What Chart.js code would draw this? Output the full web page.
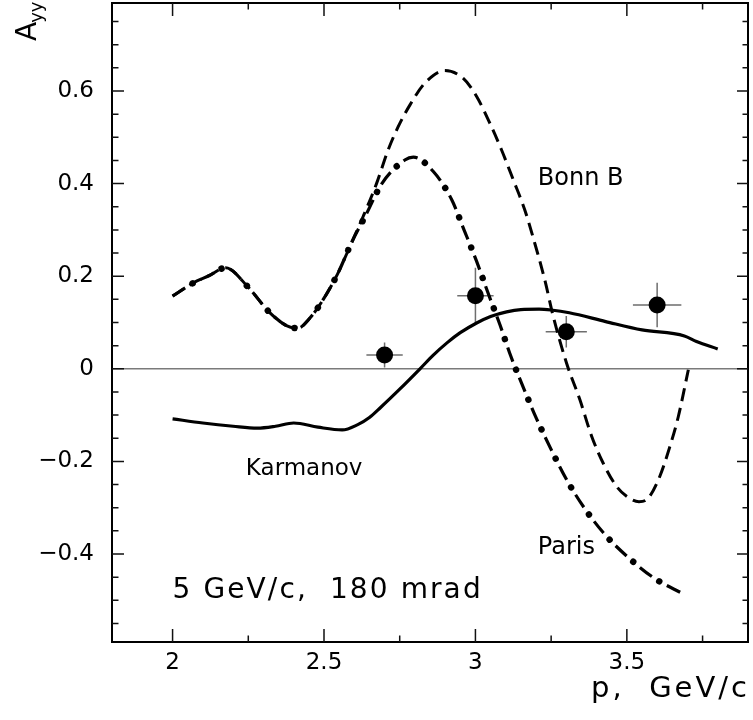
<!DOCTYPE html>
<html><head><meta charset="utf-8">
<script src="https://cdn.jsdelivr.net/npm/chart.js@4.4.0/dist/chart.umd.min.js"></script>
<style>html,body{margin:0;padding:0;background:#fff;}</style>
</head><body>
<canvas id="c" width="753" height="720"></canvas>
<script>
// ---- data ----
const xTicks = [2, 2.5, 3, 3.5];
const yTicks = [-0.4, -0.2, 0, 0.2, 0.4, 0.6];

const karmanovX = [2.0, 2.1, 2.2, 2.28, 2.34, 2.4, 2.48, 2.56, 2.61, 2.65, 2.686, 2.75, 2.817, 2.86, 2.906, 2.95, 3.004, 3.05, 3.103, 3.15, 3.21, 3.25, 3.31, 3.43, 3.55, 3.69, 3.73, 3.8];
const karmanovY = [-0.108, -0.117, -0.124, -0.128, -0.124, -0.117, -0.126, -0.132, -0.121, -0.105, -0.084, -0.044, 0.0, 0.029, 0.056, 0.078, 0.099, 0.113, 0.123, 0.128, 0.129, 0.127, 0.121, 0.102, 0.084, 0.071, 0.059, 0.043];

const bonnX = [2.0, 2.07, 2.12, 2.175, 2.25, 2.32, 2.38, 2.415, 2.45, 2.49, 2.545, 2.59, 2.63, 2.674, 2.712, 2.745, 2.784, 2.833, 2.899, 2.96, 3.004, 3.048, 3.086, 3.125, 3.163, 3.196, 3.229, 3.257, 3.301, 3.345, 3.384, 3.422, 3.466, 3.505, 3.54, 3.571, 3.609, 3.642, 3.67, 3.703];
const bonnY = [0.157, 0.186, 0.201, 0.218, 0.176, 0.122, 0.092, 0.088, 0.107, 0.142, 0.205, 0.271, 0.33, 0.401, 0.473, 0.523, 0.57, 0.617, 0.644, 0.627, 0.588, 0.53, 0.473, 0.408, 0.343, 0.271, 0.192, 0.113, 0.012, -0.067, -0.146, -0.204, -0.254, -0.278, -0.287, -0.279, -0.232, -0.168, -0.103, -0.002];

const parisX = [2.0, 2.07, 2.12, 2.175, 2.25, 2.32, 2.38, 2.415, 2.45, 2.49, 2.545, 2.59, 2.641, 2.69, 2.767, 2.795, 2.861, 2.921, 2.963, 3.004, 3.042, 3.081, 3.117, 3.158, 3.202, 3.249, 3.299, 3.358, 3.425, 3.504, 3.59, 3.689];
const parisY = [0.157, 0.186, 0.201, 0.218, 0.176, 0.122, 0.092, 0.088, 0.107, 0.142, 0.205, 0.271, 0.336, 0.399, 0.451, 0.457, 0.426, 0.366, 0.299, 0.232, 0.163, 0.095, 0.027, -0.04, -0.108, -0.173, -0.237, -0.299, -0.356, -0.407, -0.452, -0.487];

const expX = [2.7, 3.0, 3.3, 3.6];
const expY = [0.03, 0.158, 0.08, 0.138];
const expXErr = [0.06, 0.06, 0.068, 0.08];
const expYErr = [0.027, 0.06, 0.034, 0.048];

const curveLabels = ['Bonn B', 'Karmanov', 'Paris'];
const infoText = '5 GeV/c,  180 mrad';
// -------------------------------------

const FONT = 'DejaVu Sans';
const pts = (xs, ys) => xs.map((x, i) => ({x: x, y: ys[i]}));

const annot = [
  {text: curveLabels[0], x: 3.206, y: 0.397, size: 24, ls: 0},
  {text: curveLabels[1], x: 2.242, y: -0.229, size: 23, ls: 0},
  {text: curveLabels[2], x: 3.206, y: -0.401, size: 24, ls: 0},
  {text: infoText, x: 2.0, y: -0.496, size: 28, ls: 2.1}
];

const decor = {
  id: 'decor',
  beforeDatasetsDraw(chart) {
    const {ctx, scales: {x, y}} = chart;
    ctx.save();
    ctx.strokeStyle = '#6e6e6e';
    ctx.lineWidth = 1.5;
    for (let i = 0; i < expX.length; i++) {
      const cx = x.getPixelForValue(expX[i]), cy = y.getPixelForValue(expY[i]);
      ctx.beginPath();
      ctx.moveTo(x.getPixelForValue(expX[i] - expXErr[i]), cy);
      ctx.lineTo(x.getPixelForValue(expX[i] + expXErr[i]), cy);
      ctx.moveTo(cx, y.getPixelForValue(expY[i] - expYErr[i]));
      ctx.lineTo(cx, y.getPixelForValue(expY[i] + expYErr[i]));
      ctx.stroke();
    }
    ctx.restore();
  },
  afterDraw(chart) {
    const {ctx, chartArea: a, scales: {x, y}} = chart;
    ctx.save();
    ctx.strokeStyle = '#000';
    ctx.lineWidth = 2;
    ctx.strokeRect(a.left, a.top, a.right - a.left, a.bottom - a.top);
    ctx.lineWidth = 1.5;
    ctx.strokeStyle = '#111';
    ctx.beginPath();
    const isMajor = (v, arr) => arr.some(t => Math.abs(t - v) < 1e-6);
    for (let k = Math.ceil(x.min / 0.25 - 1e-9); k * 0.25 <= x.max + 1e-9; k++) {
      const v = k * 0.25, px = x.getPixelForValue(v);
      const L = isMajor(v, xTicks) ? 13 : 6.5;
      ctx.moveTo(px, a.bottom); ctx.lineTo(px, a.bottom - L);
      ctx.moveTo(px, a.top); ctx.lineTo(px, a.top + L);
    }
    for (let k = Math.ceil(y.min / 0.05 - 1e-9); k * 0.05 <= y.max + 1e-9; k++) {
      const v = k * 0.05, py = y.getPixelForValue(v);
      const major = isMajor(v, yTicks);
      ctx.moveTo(a.left, py); ctx.lineTo(a.left + (major ? 12 : 6.5), py);
      ctx.moveTo(a.right, py); ctx.lineTo(a.right - (major ? 11 : 5.5), py);
    }
    ctx.stroke();
    ctx.fillStyle = '#000';
    ctx.textBaseline = 'alphabetic';
    ctx.textAlign = 'left';
    for (const t of annot) {
      ctx.font = t.size + 'px "' + FONT + '"';
      if ('letterSpacing' in ctx) ctx.letterSpacing = t.ls + 'px';
      ctx.fillText(t.text, x.getPixelForValue(t.x), y.getPixelForValue(t.y));
    }
    ctx.font = '29px "' + FONT + '"';
    if ('letterSpacing' in ctx) ctx.letterSpacing = '3px';
    ctx.textAlign = 'right';
    ctx.fillText('p,  GeV/c', 750, 697);
    if ('letterSpacing' in ctx) ctx.letterSpacing = '0px';
    ctx.translate(36, 41);
    ctx.rotate(-Math.PI / 2);
    ctx.textAlign = 'left';
    ctx.font = '28px "' + FONT + '"';
    ctx.fillText('A', 0, 0);
    const aw = ctx.measureText('A').width;
    ctx.font = '18px "' + FONT + '"';
    ctx.fillText('yy', aw - 1, 6);
    ctx.restore();
  }
};

const curve = {showLine: true, borderColor: '#000', pointRadius: 0, tension: 0.4,
  cubicInterpolationMode: 'monotone', fill: false};

new Chart(document.getElementById('c'), {
  type: 'scatter',
  data: {
    datasets: [
      Object.assign({label: 'Karmanov', data: pts(karmanovX, karmanovY), borderWidth: 3.2}, curve),
      Object.assign({label: 'Bonn B', data: pts(bonnX, bonnY), borderWidth: 3, borderDash: [13, 7]}, curve),
      Object.assign({label: 'Paris', data: pts(parisX, parisY), borderWidth: 3.2, borderDash: [15, 17.5]}, curve),
      Object.assign({label: 'Paris dots', data: pts(parisX, parisY), borderWidth: 6.5, borderDash: [0.01, 32.49],
        borderDashOffset: 8.75, borderCapStyle: 'round'}, curve),
      {label: 'data', data: pts(expX, expY), showLine: false, pointRadius: 8.5, pointBackgroundColor: '#000',
        pointBorderColor: '#000', pointBorderWidth: 0}
    ]
  },
  options: {
    responsive: false,
    animation: false,
    devicePixelRatio: 1,
    layout: {padding: {top: 3, right: 5, left: 0, bottom: 0}, autoPadding: false},
    plugins: {legend: {display: false}, tooltip: {enabled: false}},
    scales: {
      x: {
        type: 'linear', min: 1.8, max: 3.9,
        afterBuildTicks: s => { s.ticks = xTicks.map(v => ({value: v})); },
        afterFit: s => { s.height = 78; s.paddingLeft = 0; s.paddingRight = 0; s.paddingTop = 0; s.paddingBottom = 0; },
        ticks: {font: {family: FONT, size: 23}, color: '#000', padding: 7, maxRotation: 0,
          callback: v => String(v)},
        grid: {display: true, drawOnChartArea: false, drawTicks: false},
        border: {display: false}
      },
      y: {
        type: 'linear', min: -0.59, max: 0.79,
        afterBuildTicks: s => { s.ticks = yTicks.map(v => ({value: v})); },
        afterFit: s => { s.width = 112; s.paddingLeft = 0; s.paddingRight = 0; s.paddingTop = 0; s.paddingBottom = 0; },
        ticks: {font: {family: FONT, size: 23}, color: '#000', padding: 18,
          callback: v => (Math.abs(v) < 1e-9 ? '0' : (v < 0 ? '\u2212' : '') + Math.abs(v).toFixed(1))},
        grid: {drawTicks: false, lineWidth: 1.5,
          color: c => (c.tick && Math.abs(c.tick.value) < 1e-9 ? '#7a7a7a' : 'rgba(0,0,0,0)')},
        border: {display: false}
      }
    }
  },
  plugins: [decor]
});
</script>
</body></html>
